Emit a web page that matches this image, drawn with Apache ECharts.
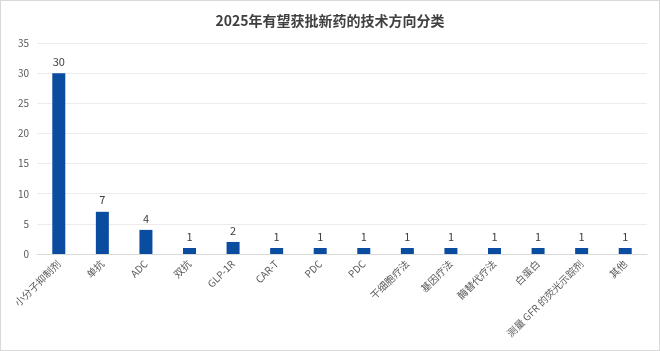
<!DOCTYPE html>
<html>
<head>
<meta charset="utf-8">
<script src="https://cdn.jsdelivr.net/npm/echarts@6/dist/echarts.min.js"></script>
<style>
html, body { margin: 0; padding: 0; background: #fff; }
#chart { width: 658px; height: 349px; border: 1px solid #d9d9d9; }
</style>
</head>
<body>
<div id="chart"></div>
<script>
// 技术方向分类
const categories = ['小分子抑制剂', '单抗', 'ADC', '双抗', 'GLP-1R', 'CAR-T', 'PDC', 'PDC',
	'干细胞疗法', '基因疗法', '酶替代疗法', '白蛋白', '测量 GFR 的荧光示踪剂', '其他'];
const counts = [30, 7, 4, 1, 2, 1, 1, 1, 1, 1, 1, 1, 1, 1];

const chart = echarts.init(document.getElementById('chart'));
const font = '"Noto Sans CJK SC", "Noto Sans", sans-serif';

chart.setOption({
	animation: false,
	title: {
		text: '2025年有望获批新药的技术方向分类',
		left: 'center',
		top: 8,
		textStyle: { fontSize: 14, fontWeight: 'bold', color: '#404040', fontFamily: font }
	},
	grid: { left: 36, right: 12, top: 42, bottom: 96 },
	xAxis: {
		type: 'category',
		data: categories,
		axisLine: { lineStyle: { color: '#d9d9d9' } },
		axisTick: { show: false },
		axisLabel: {
			interval: 0,
			rotate: 45,
			fontSize: 10,
			color: '#595959',
			fontFamily: font,
			margin: 8
		}
	},
	yAxis: {
		type: 'value',
		min: 0,
		max: 35,
		interval: 5,
		axisLine: { show: false },
		axisTick: { show: false },
		splitLine: { lineStyle: { color: '#ececec' } },
		axisLabel: { fontSize: 10, color: '#595959', fontFamily: font, margin: 8 }
	},
	series: [
		{
			type: 'bar',
			data: counts,
			barWidth: 13,
			itemStyle: { color: '#0a4ca0' },
			label: {
				show: true,
				position: 'top',
				distance: 6,
				fontSize: 11,
				color: '#404040',
				fontFamily: font
			}
		}
	]
});
</script>
</body>
</html>
